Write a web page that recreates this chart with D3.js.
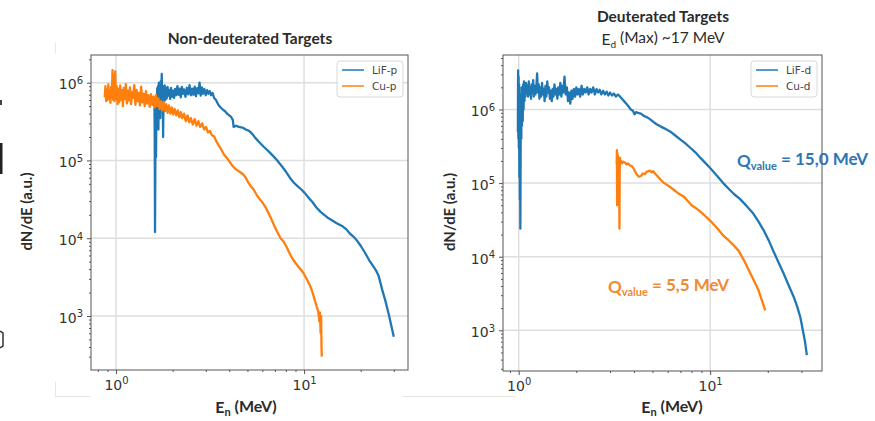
<!DOCTYPE html>
<html>
<head>
<meta charset="utf-8">
<script src="https://cdn.jsdelivr.net/npm/d3@7/dist/d3.min.js"></script>
<style>
  body { margin: 0; background: #fff; }
  svg { display: block; }
</style>
</head>
<body>
<svg id="chart"></svg>
<script>
const width = 875;
const height = 421;

// spectra: [E (MeV), dN/dE (a.u.)]
const lifP = [[1.600,6.2e5],[1.606,2.0e5],[1.612,1.2e4],[1.618,8.0e4],[1.624,4.5e5],[1.632,1.1e5],[1.640,6.5e5],[1.648,3.0e5],[1.656,8.5e5],[1.664,4.0e5],[1.672,9.0e5],[1.680,2.5e5],[1.690,1.0e6],[1.700,5.0e5],[1.710,8.0e5],[1.720,3.5e5],[1.730,1.05e6],[1.740,5.5e5],[1.750,1.3e6],[1.760,4.5e5],[1.770,9.0e5],[1.780,2.0e5],[1.790,7.5e5],[1.800,5.5e5],[1.815,9.2e5],[1.830,6.0e5],[1.845,8.5e5],[1.860,6.3e5],[1.880,8.8e5],[1.900,6.8e5],[1.920,8.0e5],[1.940,6.2e5],[1.960,8.6e5],[1.985,6.6e5],[2.010,7.9e5],[2.035,6.4e5],[2.060,8.3e5],[2.090,6.9e5],[2.120,9.0e5],[2.150,7.0e5],[2.180,8.4e5],[2.210,6.5e5],[2.240,8.8e5],[2.270,7.2e5],[2.300,8.2e5],[2.340,6.6e5],[2.380,8.6e5],[2.420,7.1e5],[2.460,9.3e5],[2.500,6.9e5],[2.540,8.4e5],[2.580,7.0e5],[2.620,8.9e5],[2.660,6.7e5],[2.700,8.5e5],[2.740,7.3e5],[2.780,1.0e6],[2.820,6.8e5],[2.860,8.7e5],[2.900,7.2e5],[2.950,8.3e5],[3.000,6.9e5],[3.050,8.0e5],[3.100,7.2e5],[3.150,7.8e5],[3.200,6.9e5],[3.260,7.4e5],[3.320,6.4e5],[3.400,6.0e5],[3.500,5.2e5],[3.600,4.8e5],[3.700,4.5e5],[3.800,4.3e5],[3.900,4.0e5],[4.000,3.8e5],[4.100,3.6e5],[4.180,3.3e5],[4.220,2.7e5],[4.350,2.8e5],[4.500,2.7e5],[4.700,2.65e5],[4.900,2.5e5],[5.100,2.4e5],[5.300,2.2e5],[5.500,1.95e5],[5.800,1.7e5],[6.100,1.5e5],[6.500,1.3e5],[6.900,1.12e5],[7.200,1.0e5],[7.600,8.5e4],[8.000,7.2e4],[8.400,6.0e4],[8.800,5.2e4],[9.200,4.7e4],[9.700,4.2e4],[10.10,3.8e4],[10.60,3.3e4],[11.10,2.9e4],[11.60,2.5e4],[12.20,2.2e4],[12.80,2.0e4],[13.50,1.8e4],[14.20,1.68e4],[15.00,1.55e4],[16.10,1.41e4],[16.80,1.3e4],[17.50,1.15e4],[18.30,1.05e4],[19.00,9.5e3],[20.00,8.0e3],[21.00,6.6e3],[22.20,5.2e3],[23.40,4.3e3],[24.20,3.8e3],[24.90,3.3e3],[26.00,2.2e3],[27.00,1.6e3],[28.20,1.05e3],[29.20,7.2e2],[30.00,5.4e2]];

const cuP = [[0.870,6.5e5],[0.878,9.0e5],[0.886,5.8e5],[0.894,8.2e5],[0.902,6.0e5],[0.910,9.5e5],[0.918,6.3e5],[0.926,7.8e5],[0.934,5.5e5],[0.942,8.8e5],[0.950,6.5e5],[0.958,1.45e6],[0.966,6.0e5],[0.974,1.2e6],[0.982,5.8e5],[0.990,1.4e6],[0.998,6.2e5],[1.008,9.0e5],[1.018,5.3e5],[1.028,8.4e5],[1.040,5.6e5],[1.052,9.2e5],[1.064,6.0e5],[1.076,8.0e5],[1.088,5.0e5],[1.100,8.6e5],[1.114,6.2e5],[1.128,9.6e5],[1.142,5.4e5],[1.156,7.9e5],[1.170,5.9e5],[1.186,8.7e5],[1.202,5.3e5],[1.218,7.6e5],[1.234,6.4e5],[1.250,9.3e5],[1.268,5.2e5],[1.286,8.1e5],[1.304,5.8e5],[1.322,7.4e5],[1.340,5.1e5],[1.360,8.9e5],[1.380,5.6e5],[1.400,7.2e5],[1.420,5.0e5],[1.442,7.8e5],[1.464,5.4e5],[1.486,6.9e5],[1.510,4.9e5],[1.534,7.1e5],[1.558,5.2e5],[1.582,6.6e5],[1.606,4.8e5],[1.630,6.9e5],[1.655,5.0e5],[1.680,6.3e5],[1.705,4.6e5],[1.730,5.8e5],[1.760,4.4e5],[1.790,5.7e5],[1.820,4.3e5],[1.850,5.3e5],[1.880,4.1e5],[1.910,5.1e5],[1.945,4.0e5],[1.980,4.8e5],[2.015,3.9e5],[2.050,4.6e5],[2.090,3.8e5],[2.130,4.4e5],[2.170,3.6e5],[2.210,4.2e5],[2.250,3.5e5],[2.300,4.0e5],[2.350,3.2e5],[2.400,3.8e5],[2.450,3.1e5],[2.500,3.5e5],[2.560,2.9e5],[2.620,3.4e5],[2.680,2.8e5],[2.740,3.2e5],[2.800,2.7e5],[2.870,3.0e5],[2.940,2.5e5],[3.010,2.7e5],[3.080,2.3e5],[3.160,2.4e5],[3.240,2.1e5],[3.320,2.05e5],[3.420,1.75e5],[3.520,1.55e5],[3.620,1.4e5],[3.740,1.2e5],[3.860,1.1e5],[4.000,9.8e4],[4.150,8.6e4],[4.300,7.8e4],[4.450,7.4e4],[4.600,7.0e4],[4.750,6.6e4],[4.900,6.0e4],[5.050,5.2e4],[5.200,4.7e4],[5.400,4.2e4],[5.600,3.6e4],[5.800,3.2e4],[6.000,2.9e4],[6.300,2.4e4],[6.600,1.9e4],[6.900,1.5e4],[7.200,1.2e4],[7.500,1.0e4],[7.800,9.0e3],[8.100,7.6e3],[8.400,6.3e3],[8.700,5.4e3],[9.000,4.8e3],[9.400,4.2e3],[9.900,3.6e3],[10.40,2.9e3],[10.80,2.4e3],[11.10,2.0e3],[11.40,1.6e3],[11.70,1.3e3],[11.90,1.15e3],[12.05,8.5e2],[12.15,1.1e3],[12.25,6.0e2],[12.32,1.0e3],[12.38,4.0e2],[12.42,3.0e2]];

const lifD = [[0.990,5e5],[0.993,3.4e6],[0.996,4e5],[0.999,2.8e6],[1.002,3.0e5],[1.005,2.2e6],[1.008,1.2e5],[1.011,1.5e6],[1.014,6e4],[1.017,8e5],[1.020,2.4e4],[1.024,3.5e5],[1.028,1.6e6],[1.032,4e5],[1.036,2.0e6],[1.040,6e5],[1.045,1.8e6],[1.050,7e5],[1.055,2.2e6],[1.060,1.0e6],[1.066,2.4e6],[1.072,1.3e6],[1.078,2.0e6],[1.085,1.5e6],[1.092,2.3e6],[1.100,1.7e6],[1.110,2.1e6],[1.120,1.5e6],[1.130,2.4e6],[1.140,1.6e6],[1.150,2.0e6],[1.160,1.4e6],[1.170,2.2e6],[1.180,1.7e6],[1.190,2.5e6],[1.200,1.5e6],[1.212,2.1e6],[1.224,1.6e6],[1.236,2.0e6],[1.248,3.1e6],[1.260,1.7e6],[1.272,2.2e6],[1.284,1.4e6],[1.296,2.0e6],[1.310,1.5e6],[1.324,2.3e6],[1.338,1.6e6],[1.352,1.9e6],[1.366,1.3e6],[1.380,2.1e6],[1.395,1.5e6],[1.410,2.4e6],[1.425,1.7e6],[1.440,2.0e6],[1.456,1.4e6],[1.472,1.8e6],[1.488,1.3e6],[1.504,1.9e6],[1.520,1.5e6],[1.538,2.2e6],[1.556,1.6e6],[1.574,1.9e6],[1.592,1.4e6],[1.610,2.0e6],[1.630,1.6e6],[1.650,2.3e6],[1.670,1.5e6],[1.690,2.1e6],[1.710,1.7e6],[1.735,2.8e6],[1.760,1.6e6],[1.785,2.0e6],[1.810,1.3e6],[1.835,1.7e6],[1.860,1.2e6],[1.885,1.8e6],[1.910,1.4e6],[1.940,1.9e6],[1.970,1.5e6],[2.000,2.0e6],[2.030,1.6e6],[2.060,1.9e6],[2.095,1.5e6],[2.130,2.1e6],[2.165,1.6e6],[2.200,1.9e6],[2.240,1.7e6],[2.280,2.0e6],[2.320,1.6e6],[2.360,1.9e6],[2.400,1.7e6],[2.450,2.0e6],[2.500,1.6e6],[2.550,1.9e6],[2.600,1.7e6],[2.650,1.85e6],[2.700,1.6e6],[2.760,1.8e6],[2.820,1.6e6],[2.880,1.75e6],[2.940,1.55e6],[3.000,1.7e6],[3.070,1.55e6],[3.140,1.65e6],[3.220,1.5e6],[3.300,1.6e6],[3.380,1.5e6],[3.460,1.4e6],[3.550,1.3e6],[3.650,1.2e6],[3.750,1.1e6],[3.850,1.0e6],[3.950,9.6e5],[4.030,8.6e5],[4.100,9.2e5],[4.200,9.0e5],[4.350,8.8e5],[4.500,8.2e5],[4.650,7.9e5],[4.850,7.4e5],[5.050,6.8e5],[5.250,6.3e5],[5.500,5.9e5],[5.800,5.5e5],[6.200,5.0e5],[6.600,4.4e5],[7.000,3.9e5],[7.400,3.5e5],[7.900,3.0e5],[8.400,2.6e5],[8.900,2.2e5],[9.400,1.9e5],[10.00,1.6e5],[10.80,1.28e5],[11.70,1.0e5],[12.60,8.2e4],[13.40,7.0e4],[14.30,6.1e4],[15.50,4.9e4],[16.80,3.85e4],[17.90,3.0e4],[19.00,2.3e4],[20.20,1.68e4],[21.50,1.16e4],[22.80,8.3e3],[24.20,5.9e3],[25.70,4.1e3],[27.30,2.86e3],[28.50,2.1e3],[29.60,1.5e3],[30.50,1.0e3],[31.30,7.0e2],[32.00,4.6e2]];

const cuD = [[3.250,1.8e5],[3.258,2.8e5],[3.266,5.0e4],[3.274,2.6e5],[3.282,7.0e4],[3.290,2.4e5],[3.298,5.5e4],[3.306,2.3e5],[3.314,9.0e4],[3.322,2.2e5],[3.330,6.0e4],[3.340,2.0e5],[3.350,1.2e5],[3.360,2.4e4],[3.370,1.4e5],[3.382,2.2e5],[3.400,1.9e5],[3.430,2.0e5],[3.470,1.85e5],[3.520,1.95e5],[3.590,1.9e5],[3.650,1.8e5],[3.720,1.85e5],[3.800,1.75e5],[3.900,1.7e5],[3.970,1.6e5],[4.050,1.45e5],[4.150,1.3e5],[4.250,1.22e5],[4.350,1.25e5],[4.450,1.35e5],[4.550,1.32e5],[4.650,1.42e5],[4.750,1.45e5],[4.850,1.48e5],[4.950,1.4e5],[5.050,1.45e5],[5.150,1.35e5],[5.300,1.25e5],[5.500,1.12e5],[5.700,1.02e5],[5.900,9.6e4],[6.200,8.8e4],[6.500,8.0e4],[6.800,7.3e4],[7.270,6.6e4],[7.600,5.8e4],[8.000,5.0e4],[8.400,4.6e4],[8.800,4.2e4],[9.400,3.6e4],[10.00,3.1e4],[10.80,2.5e4],[11.70,1.94e4],[12.40,1.7e4],[13.20,1.45e4],[14.10,1.2e4],[15.00,9.0e3],[15.90,6.6e3],[16.90,4.8e3],[17.90,3.5e3],[18.70,2.5e3],[19.40,1.86e3]];

const xTicks = [1, 10];
const yTicks = [1e3, 1e4, 1e5, 1e6];
const legendLeft = ["LiF-p", "Cu-p"];
const legendRight = ["LiF-d", "Cu-d"];

const blue = "#1f77b4";
const orange = "#ff7f0e";
const titleFont = "Lato, 'Open Sans', sans-serif";
const tickFont = "'DejaVu Sans', sans-serif";

const svg = d3.select("#chart").attr("width", width).attr("height", height);

function drawPanel(opt) {
  const x = d3.scaleLog().domain(opt.xDomain).range([opt.left, opt.right]);
  const y = d3.scaleLog().domain(opt.yDomain).range([opt.bottom, opt.top]);
  const g = svg.append("g");

  // grid on major ticks
  g.append("g").selectAll("line.gx").data(xTicks).join("line")
    .attr("x1", d => x(d)).attr("x2", d => x(d))
    .attr("y1", opt.top).attr("y2", opt.bottom)
    .attr("stroke", "#dedede").attr("stroke-width", 1.5);
  g.append("g").selectAll("line.gy").data(yTicks).join("line")
    .attr("x1", opt.left).attr("x2", opt.right)
    .attr("y1", d => y(d)).attr("y2", d => y(d))
    .attr("stroke", "#dedede").attr("stroke-width", 1.5);

  // minor ticks
  const minorX = [];
  [0.1, 1, 10].forEach(b => { for (let k = 2; k <= 9; k++) minorX.push(b * k); });
  const minorY = [];
  [1e2, 1e3, 1e4, 1e5, 1e6].forEach(b => { for (let k = 2; k <= 9; k++) minorY.push(b * k); });
  const inX = v => v >= opt.xDomain[0] && v <= opt.xDomain[1];
  const inY = v => v >= opt.yDomain[0] && v <= opt.yDomain[1];

  g.append("g").attr("transform", `translate(0,${opt.bottom})`)
    .call(d3.axisBottom(x).tickValues(minorX.filter(inX)).tickSize(2).tickFormat(""))
    .call(a => a.select(".domain").remove())
    .selectAll("line").attr("stroke", "#555");
  g.append("g").attr("transform", `translate(${opt.left},0)`)
    .call(d3.axisLeft(y).tickValues(minorY.filter(inY)).tickSize(2).tickFormat(""))
    .call(a => a.select(".domain").remove())
    .selectAll("line").attr("stroke", "#555");

  // major axes with 10^n labels
  const sup = sel => {
    sel.selectAll(".tick text").each(function(d) {
      const t = d3.select(this).text(null)
        .attr("font-family", tickFont).attr("font-size", 14).attr("fill", "#333");
      t.append("tspan").text("10");
      t.append("tspan").attr("dy", "-0.55em").attr("font-size", 10)
        .text(Math.round(Math.log10(d)));
    });
  };
  const ax = g.append("g").attr("transform", `translate(0,${opt.bottom})`)
    .call(d3.axisBottom(x).tickValues(xTicks).tickSize(4).tickPadding(6));
  ax.select(".domain").remove();
  ax.selectAll("line").attr("stroke", "#555");
  sup(ax);
  const ay = g.append("g").attr("transform", `translate(${opt.left},0)`)
    .call(d3.axisLeft(y).tickValues(yTicks).tickSize(4).tickPadding(4));
  ay.select(".domain").remove();
  ay.selectAll("line").attr("stroke", "#555");
  sup(ay);
  ay.selectAll(".tick text").attr("dy", "0.45em");

  // data lines
  const clipId = "clip" + opt.id;
  svg.append("clipPath").attr("id", clipId).append("rect")
    .attr("x", opt.left).attr("y", opt.top)
    .attr("width", opt.right - opt.left).attr("height", opt.bottom - opt.top);
  const line = d3.line().x(d => x(d[0])).y(d => y(d[1]));
  const lg = g.append("g").attr("clip-path", `url(#${clipId})`);
  opt.series.forEach(s => {
    lg.append("path").datum(s.data)
      .attr("d", line).attr("fill", "none")
      .attr("stroke", s.color).attr("stroke-width", 2.3)
      .attr("stroke-linejoin", "round");
  });

  // frame
  g.append("rect")
    .attr("x", opt.left).attr("y", opt.top)
    .attr("width", opt.right - opt.left).attr("height", opt.bottom - opt.top)
    .attr("fill", "none").attr("stroke", "#555").attr("stroke-width", 1);

  // legend
  const lw = 66, lh = 36;
  const lx = opt.right - lw - 5, ly = opt.top + 6;
  const leg = g.append("g");
  leg.append("rect").attr("x", lx).attr("y", ly).attr("width", lw).attr("height", lh)
    .attr("rx", 3).attr("fill", "#fff").attr("fill-opacity", 0.85)
    .attr("stroke", "#d8d8d8");
  opt.series.forEach((s, i) => {
    const yy = ly + 9 + i * 16;
    leg.append("line").attr("x1", lx + 5).attr("x2", lx + 27)
      .attr("y1", yy).attr("y2", yy).attr("stroke", s.color).attr("stroke-width", 1.5);
    leg.append("text").attr("x", lx + 35).attr("y", yy + 4)
      .attr("font-family", tickFont).attr("font-size", 10.5).attr("fill", "#444")
      .text(s.label);
  });

  // axis titles
  const xt = g.append("text").attr("x", opt.xLabelX).attr("y", 413)
    .attr("text-anchor", "middle").attr("font-family", titleFont)
    .attr("font-weight", "bold").attr("font-size", 16).attr("fill", "#2b2b2b");
  xt.append("tspan").text("E");
  xt.append("tspan").attr("dy", "0.3em").attr("font-size", 11).text("n");
  xt.append("tspan").attr("dy", "-0.3em").text(" (MeV)");

  g.append("text")
    .attr("transform", `translate(${opt.yLabelX},${(opt.top + opt.bottom) / 2 - 1}) rotate(-90)`)
    .attr("text-anchor", "middle").attr("font-family", titleFont)
    .attr("font-weight", "bold").attr("font-size", 15).attr("fill", "#2b2b2b")
    .text("dN/dE (a.u.)");

  return { x, y };
}

drawPanel({
  id: "L", left: 91, right: 408, top: 55, bottom: 370,
  xDomain: [0.736, 35.7], yDomain: [202, 2.27e6],
  xLabelX: 246, yLabelX: 32,
  series: [
    { label: legendLeft[0], data: lifP, color: blue },
    { label: legendLeft[1], data: cuP, color: orange }
  ]
});

drawPanel({
  id: "R", left: 503, right: 822, top: 55, bottom: 371,
  xDomain: [0.828, 38.4], yDomain: [280, 5.5e6],
  xLabelX: 672, yLabelX: 455,
  series: [
    { label: legendRight[0], data: lifD, color: blue },
    { label: legendRight[1], data: cuD, color: orange }
  ]
});

// panel titles
svg.append("text").attr("x", 250).attr("y", 44).attr("text-anchor", "middle")
  .attr("font-family", titleFont).attr("font-weight", "bold").attr("font-size", 15.5)
  .attr("fill", "#2b2b2b").text("Non-deuterated Targets");
svg.append("text").attr("x", 663).attr("y", 22).attr("text-anchor", "middle")
  .attr("font-family", titleFont).attr("font-weight", "bold").attr("font-size", 15.5)
  .attr("fill", "#2b2b2b").text("Deuterated Targets");
const sub = svg.append("text").attr("x", 663).attr("y", 45).attr("text-anchor", "middle")
  .attr("font-family", titleFont).attr("font-size", 15.5).attr("fill", "#2b2b2b");
sub.append("tspan").text("E");
sub.append("tspan").attr("dy", "0.3em").attr("font-size", 10).text("d");
sub.append("tspan").attr("dy", "-0.3em").text(" (Max) ~17 MeV");

// Q-value notes
function qNote(xp, yp, color, rest) {
  const t = svg.append("text").attr("x", xp).attr("y", yp)
    .attr("font-family", titleFont).attr("font-weight", "bold")
    .attr("font-size", 17).attr("fill", color);
  t.append("tspan").text("Q");
  t.append("tspan").attr("dy", "0.3em").attr("font-size", 11).text("value");
  t.append("tspan").attr("dy", "-0.3em").text(rest);
}
qNote(737, 167, "#2e75b6", " = 15,0 MeV");
qNote(608, 293, "#f08a33", " = 5,5 MeV");

// leftover marks at the left edge and faint frame lines of the slide
svg.append("rect").attr("x", 0).attr("y", 143).attr("width", 2.5).attr("height", 31).attr("fill", "#222");
svg.append("rect").attr("x", 0).attr("y", 100).attr("width", 2).attr("height", 5).attr("fill", "#444");
svg.append("path").attr("d", "M0,331 L3,333 L3,346 L0,348").attr("fill", "none").attr("stroke", "#333").attr("stroke-width", 1.5);
svg.append("line").attr("x1", 55.5).attr("x2", 55.5).attr("y1", 43).attr("y2", 53).attr("stroke", "#e6e6e6");
svg.append("line").attr("x1", 55.5).attr("x2", 55.5).attr("y1", 382).attr("y2", 397).attr("stroke", "#e6e6e6");
svg.append("line").attr("x1", 55).attr("x2", 90).attr("y1", 396.5).attr("y2", 396.5).attr("stroke", "#e6e6e6");
svg.append("line").attr("x1", 403).attr("x2", 440).attr("y1", 396.5).attr("y2", 396.5).attr("stroke", "#e6e6e6");
svg.append("line").attr("x1", 440).attr("x2", 516).attr("y1", 396.5).attr("y2", 396.5).attr("stroke", "#e6e6e6");
</script>
</body>
</html>
